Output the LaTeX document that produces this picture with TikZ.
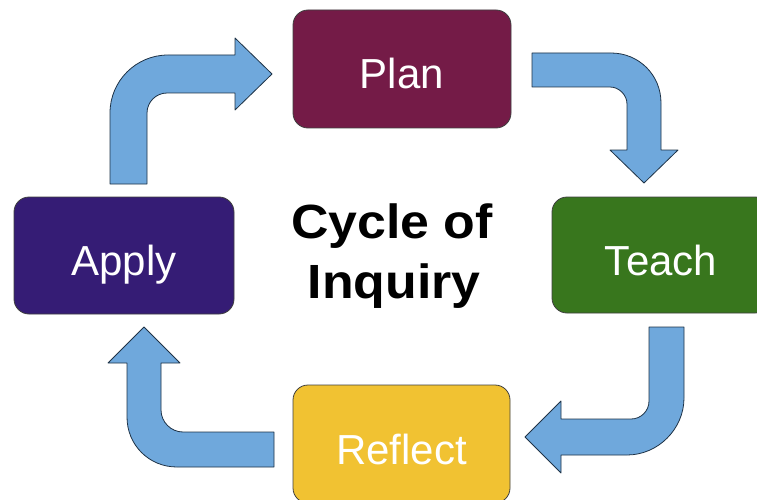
\documentclass[tikz,border=0pt]{standalone}
\usepackage{fontspec}
\setmainfont{Liberation Sans}
\definecolor{planc}{HTML}{741B47}
\definecolor{teachc}{HTML}{38761D}
\definecolor{reflectc}{HTML}{F1C232}
\definecolor{applyc}{HTML}{351C75}
\definecolor{arrowc}{HTML}{6FA8DC}
\definecolor{arrowline}{HTML}{1F3347}
\begin{document}
\begin{tikzpicture}[x=1pt,y=-1pt,
  box/.style={draw=black!75, line width=0.8pt, rounded corners=15pt,
    minimum width=218pt, minimum height=118pt, inner sep=0pt,
    text=white, font=\fontsize{42}{50}\selectfont,
    text height=40pt, text depth=0pt},
  arr/.style={fill=arrowc, draw=arrowline, line width=0.8pt, line join=round},
  title/.style={font=\bfseries\fontsize{48}{60}\selectfont, xscale=1.08, anchor=base, inner sep=0pt}]
\useasboundingbox (0,0) rectangle (757,500);
\clip (0,0) rectangle (757,500);
\fill[white] (0,0) rectangle (757,500);

% boxes
\node[box, fill=planc] (plan) at (402,69) {Plan};
\node[box, fill=applyc, minimum width=220pt, minimum height=117pt] (apply) at (124,255.5) {Apply};
\node[box, fill=teachc, minimum height=116pt] (teach) at (661,255) {Teach};
\node[box, fill=reflectc, minimum width=217pt] (reflect) at (401.5,444) {Reflect};

% title
\node[title] (t1) at (392,238) {Cycle of};
\node[title] (t2) at (394,298) {Inquiry};

% arrow Apply -> Plan
\draw[arr] (110,184) -- (110,113) .. controls (110,81) and (136,55) .. (168,55)
  -- (235,55) -- (235,38) -- (272,74) -- (235,110) -- (235,93) -- (167,93)
  .. controls (156,93) and (147,102) .. (147,113) -- (147,184) -- cycle;

% arrow Plan -> Teach
\draw[arr] (532,53) -- (611,53) .. controls (639,53) and (661,75) .. (661,103)
  -- (661,150) -- (678,150) -- (644,183) -- (610,150) -- (627,150) -- (627,104)
  .. controls (627,95) and (619,87) .. (610,87) -- (532,87) -- cycle;

% arrow Teach -> Reflect
\draw[arr] (649,327) -- (684,327) -- (684,398) .. controls (684,429) and (658,455) .. (627,455)
  -- (561,455) -- (561,473) -- (525,437) -- (561,401) -- (561,419) -- (631,419)
  .. controls (641,419) and (649,411) .. (649,401) -- cycle;

% arrow Reflect -> Apply
\draw[arr] (274,432) -- (183,432) .. controls (171,432) and (161,422) .. (161,410)
  -- (161,363) -- (180,363) -- (144,327) -- (108,363) -- (127,363) -- (127,417)
  .. controls (127,445) and (149,467) .. (177,467) -- (274,467) -- cycle;
\end{tikzpicture}
\end{document}
